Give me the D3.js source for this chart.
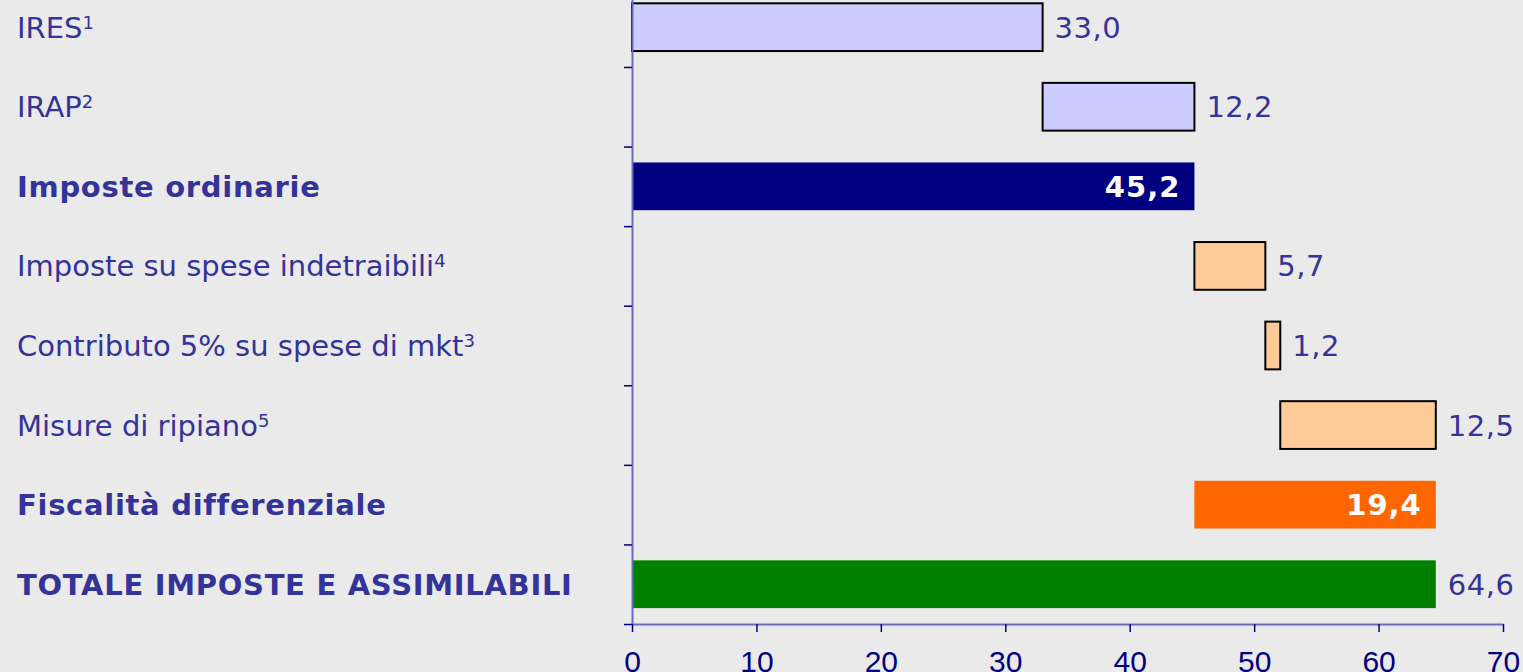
<!DOCTYPE html>
<html>
<head>
<meta charset="utf-8">
<script src="https://cdn.jsdelivr.net/npm/d3@7"></script>
<style>
  html, body { margin: 0; padding: 0; background: #eaeaea; }
  svg { display: block; }
</style>
</head>
<body>
<div id="chart"></div>
<script>
// Dati (miliardi)
const categories = [
    'IRES', 'IRAP', 'Imposte ordinarie', 'Imposte su spese indetraibili',
    'Contributo 5% su spese di mkt', 'Misure di ripiano',
    'Fiscalità differenziale', 'TOTALE IMPOSTE E ASSIMILABILI'
];
const notes = ['1', '2', '', '4', '3', '5', '', ''];
const starts = [0, 33.0, 0, 45.2, 50.9, 52.1, 45.2, 0];
const values = [33.0, 12.2, 45.2, 5.7, 1.2, 12.5, 19.4, 64.6];
const kinds = ['imposta', 'imposta', 'ordinarie', 'fiscalita', 'fiscalita', 'fiscalita', 'differenziale', 'totale'];
const xTicks = [0, 10, 20, 30, 40, 50, 60, 70];

// Stili per tipo di barra
const styles = {
    imposta:       { fill: '#ccccff', stroke: '#000', bold: false, inside: false },
    ordinarie:     { fill: '#000080', stroke: 'none', bold: true, inside: true },
    fiscalita:     { fill: '#ffcc99', stroke: '#000', bold: false, inside: false },
    differenziale: { fill: '#ff6600', stroke: 'none', bold: true, inside: true },
    totale:        { fill: '#008000', stroke: 'none', bold: true, inside: false }
};

const width = 1523, height = 672;
const plotLeft = 632, plotRight = 1503, plotTop = -12.6, plotBottom = 624;
const textColor = '#333399';
const font = '"DejaVu Sans", Verdana, sans-serif';

const formatNumber = v => new Intl.NumberFormat('it-IT', {
    minimumFractionDigits: 1, maximumFractionDigits: 1
}).format(v);

const svg = d3.select('#chart').append('svg')
    .attr('width', width)
    .attr('height', height);

svg.append('rect').attr('width', width).attr('height', height).attr('fill', '#eaeaea');

// Scale
const x = d3.scaleLinear().domain([0, 70]).range([plotLeft, plotRight]);
const y = d3.scaleBand()
    .domain(categories)
    .range([plotTop, plotBottom])
    .paddingInner(0.4)
    .paddingOuter(0.2);
const yEdges = d3.scaleLinear().domain([0, categories.length]).range([plotTop, plotBottom]);

const rows = categories.map((c, i) => ({
    name: c, note: notes[i], start: starts[i], value: values[i], style: styles[kinds[i]]
}));

// Barre
svg.append('g').selectAll('rect')
    .data(rows)
    .join('rect')
    .attr('x', d => x(d.start))
    .attr('y', d => y(d.name))
    .attr('width', d => x(d.start + d.value) - x(d.start))
    .attr('height', y.bandwidth())
    .attr('fill', d => d.style.fill)
    .attr('stroke', d => d.style.stroke)
    .attr('stroke-width', 2);

// Etichette dei valori
svg.append('g').selectAll('text')
    .data(rows)
    .join('text')
    .attr('x', d => d.style.inside ? x(d.start + d.value) - 14 : x(d.start + d.value) + 12)
    .attr('y', d => y(d.name) + y.bandwidth() / 2)
    .attr('dy', '0.36em')
    .attr('text-anchor', d => d.style.inside ? 'end' : 'start')
    .attr('font-family', font)
    .attr('font-size', 29)
    .attr('font-weight', d => d.style.inside ? 'bold' : 'normal')
    .attr('letter-spacing', d => d.style.inside ? 1 : 0.5)
    .attr('fill', d => d.style.inside ? '#fff' : textColor)
    .text(d => formatNumber(d.value));

// Etichette delle categorie
const labels = svg.append('g').selectAll('text')
    .data(rows)
    .join('text')
    .attr('x', 17)
    .attr('y', d => y(d.name) + y.bandwidth() / 2)
    .attr('dy', '0.36em')
    .attr('font-family', font)
    .attr('font-size', 29)
    .attr('font-weight', d => d.style.bold ? 'bold' : 'normal')
    .attr('letter-spacing', d => d.style.bold ? 0.7 : 0)
    .attr('fill', textColor);

labels.append('tspan').text(d => d.name);
labels.filter(d => d.note).append('tspan')
    .attr('font-size', 18)
    .attr('dy', -9)
    .text(d => d.note);

// Asse verticale con tacche tra le categorie
const yAxis = svg.append('g')
    .attr('transform', `translate(${plotLeft},0)`)
    .call(d3.axisLeft(yEdges)
        .tickValues(d3.range(1, categories.length + 1))
        .tickSize(8)
        .tickSizeOuter(0)
        .tickFormat(''));
yAxis.select('.domain').attr('stroke', '#6a6ab8').attr('stroke-width', 2);
yAxis.selectAll('.tick line').attr('stroke', '#000080').attr('stroke-width', 1.5);

// Asse orizzontale
const xAxis = svg.append('g')
    .attr('transform', `translate(0,${plotBottom})`)
    .call(d3.axisBottom(x)
        .tickValues(xTicks)
        .tickSize(8)
        .tickSizeOuter(0)
        .tickPadding(19));
xAxis.select('.domain').attr('stroke', '#6a6ab8').attr('stroke-width', 2);
xAxis.selectAll('.tick line').attr('stroke', '#000080').attr('stroke-width', 1.5);
xAxis.selectAll('.tick text')
    .attr('fill', '#000080')
    .attr('font-family', '"Liberation Sans", Arial, sans-serif')
    .attr('font-size', 30);
</script>
</body>
</html>
